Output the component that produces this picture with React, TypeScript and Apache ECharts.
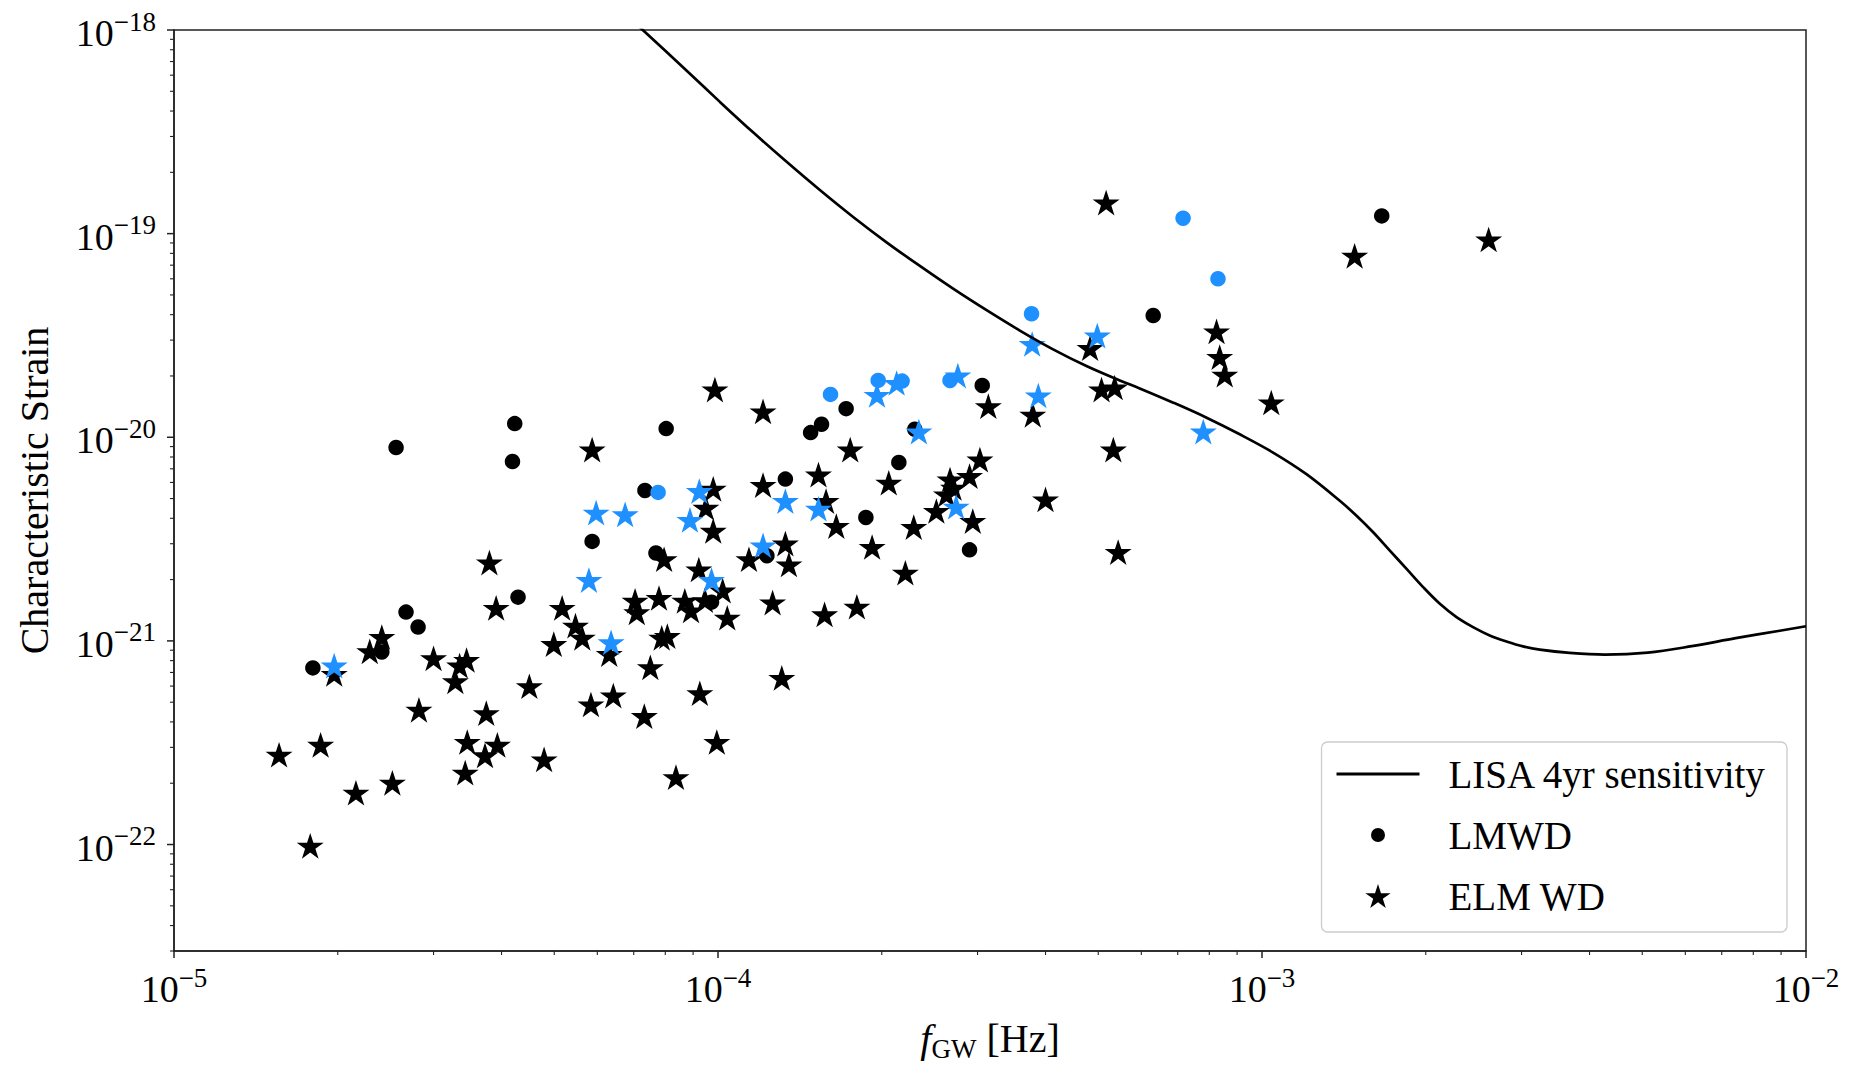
import React, { useEffect, useRef } from "react";
import * as echarts from "echarts";

const FONT = '"Liberation Serif", "Times New Roman", serif';
const BLUE = "#1E90FF";
const AXIS_COLOR = "#222222";

// ECharts rounds very small numbers to zero on log axes, so the values are
// plotted in scaled units (f / 1e-5 and h / 1e-23); labels undo the scaling.
const X_SCALE_EXP = 5;
const Y_SCALE_EXP = 23;
const X_SCALE = 1e5;
const Y_SCALE = 1e23;

const X_MIN = 1e-5;
const X_MAX = 1e-2;
const Y_MIN = 3e-23;
const Y_MAX = 1e-18;

// LISA 4yr sensitivity curve
const lisaFreq = [
  6.6e-5, 7.29e-5, 8.76e-5, 1.008e-4, 1.16e-4, 1.337e-4, 1.539e-4, 1.772e-4, 2.041e-4, 2.35e-4,
  2.705e-4, 3.117e-4, 3.588e-4, 4.13e-4, 4.756e-4, 5.477e-4, 5.96e-4, 6.87e-4, 7.91e-4, 9.1e-4,
  1.048e-3, 1.207e-3, 1.39e-3, 1.492e-3, 1.601e-3, 1.718e-3, 1.844e-3, 1.978e-3, 2.123e-3, 2.278e-3,
  2.443e-3, 2.622e-3, 2.814e-3, 3.019e-3, 3.24e-3, 3.679e-3, 4.266e-3, 5.118e-3, 6.166e-3, 7.427e-3,
  8.948e-3, 1.0e-2,
];
const lisaStrain = [
  1.276e-18, 9.95e-19, 6.306e-19, 4.436e-19, 3.144e-19, 2.252e-19, 1.637e-19, 1.207e-19, 9.066e-20, 6.937e-20,
  5.366e-20, 4.206e-20, 3.342e-20, 2.703e-20, 2.239e-20, 1.902e-20, 1.738e-20, 1.479e-20, 1.248e-20, 1.034e-20,
  8.414e-21, 6.588e-21, 4.875e-21, 4.117e-21, 3.415e-21, 2.775e-21, 2.257e-21, 1.836e-21, 1.521e-21, 1.309e-21,
  1.169e-21, 1.064e-21, 9.94e-22, 9.397e-22, 9.053e-22, 8.725e-22, 8.559e-22, 8.755e-22, 9.419e-22, 1.031e-21,
  1.122e-21, 1.18e-21,
];

// LMWD (black)
const lmwdFreq = [
  4.23e-5, 2.56e-5, 4.19e-5, 8.03e-5, 7.34e-5, 5.87e-5, 7.69e-5, 4.29e-5, 2.67e-5, 2.81e-5,
  2.41e-5, 1.8e-5, 1.72e-4, 1.55e-4, 1.48e-4, 2.15e-4, 1.33e-4, 1.87e-4, 2.9e-4, 1.23e-4,
  9.73e-5, 3.06e-4, 1.66e-3, 6.31e-4, 2.3e-4,
];
const lmwdStrain = [
  1.167e-20, 8.9e-21, 7.6e-21, 1.103e-20, 5.48e-21, 3.08e-21, 2.7e-21, 1.64e-21, 1.385e-21, 1.169e-21,
  8.82e-22, 7.37e-22, 1.382e-20, 1.158e-20, 1.054e-20, 7.52e-21, 6.23e-21, 4.04e-21, 2.8e-21, 2.62e-21,
  1.55e-21, 1.797e-20, 1.222e-19, 3.96e-20, 1.094e-20,
];

// LMWD (blue)
const lmwdBlueFreq = [7.76e-5, 1.61e-4, 1.97e-4, 2.18e-4, 2.67e-4, 7.16e-4, 8.3e-4, 3.77e-4];
const lmwdBlueStrain = [5.36e-21, 1.624e-20, 1.902e-20, 1.887e-20, 1.9e-20, 1.191e-19, 6.0e-20, 4.04e-20];

// ELM WD (black)
const elmFreq = [
  5.87e-5, 3.8e-5, 7.96e-5, 9.22e-5, 3.91e-5, 5.17e-5, 7.04e-5, 7.09e-5, 7.79e-5, 8.69e-5,
  8.92e-5, 9.46e-5, 5.47e-5, 5.63e-5, 4.99e-5, 6.31e-5, 7.88e-5, 8.07e-5, 2.41e-5, 2.29e-5,
  1.97e-5, 3.0e-5, 3.45e-5, 3.35e-5, 3.29e-5, 4.5e-5, 7.51e-5, 6.42e-5, 5.84e-5, 7.32e-5,
  9.26e-5, 2.82e-5, 3.75e-5, 1.86e-5, 1.56e-5, 3.46e-5, 3.93e-5, 3.73e-5, 4.79e-5, 3.43e-5,
  2.52e-5, 2.16e-5, 8.37e-5, 1.78e-5, 9.95e-5, 9.87e-5, 1.21e-4, 1.75e-4, 1.53e-4, 1.21e-4,
  2.06e-4, 9.8e-5, 9.5e-5, 1.58e-4, 1.65e-4, 9.8e-5, 2.29e-4, 1.92e-4, 1.33e-4, 1.35e-4,
  1.14e-4, 2.21e-4, 1.02e-4, 1.04e-4, 1.26e-4, 1.57e-4, 1.8e-4, 1.31e-4, 3.03e-4, 2.9e-4,
  2.67e-4, 2.71e-4, 2.63e-4, 2.52e-4, 2.94e-4, 3.14e-4, 3.79e-4, 5.33e-4, 4.0e-4, 5.44e-4,
  5.07e-4, 5.36e-4, 5.17e-4, 1.48e-3, 2.61e-3, 4.83e-4, 8.25e-4, 8.36e-4, 8.54e-4, 1.04e-3,
];
const elmStrain = [
  8.57e-21, 2.39e-21, 2.48e-21, 2.21e-21, 1.43e-21, 1.43e-21, 1.55e-21, 1.36e-21, 1.6e-21, 1.55e-21,
  1.39e-21, 1.56e-21, 1.17e-21, 1.02e-21, 9.5e-22, 8.49e-22, 1.02e-21, 1.04e-21, 1.03e-21, 8.76e-22,
  6.78e-22, 8.09e-22, 7.94e-22, 7.45e-22, 6.24e-22, 5.9e-22, 7.31e-22, 5.31e-22, 4.8e-22, 4.21e-22,
  5.45e-22, 4.52e-22, 4.35e-22, 3.04e-22, 2.72e-22, 3.14e-22, 3.04e-22, 2.7e-22, 2.58e-22, 2.22e-22,
  1.98e-22, 1.77e-22, 2.11e-22, 9.71e-23, 3.14e-22, 1.69e-20, 1.32e-20, 8.57e-21, 6.46e-21, 5.74e-21,
  5.89e-21, 5.5e-21, 4.44e-21, 4.79e-21, 3.61e-21, 3.42e-21, 3.57e-21, 2.85e-21, 2.96e-21, 2.34e-21,
  2.48e-21, 2.13e-21, 1.74e-21, 1.28e-21, 1.52e-21, 1.33e-21, 1.45e-21, 6.48e-22, 7.65e-21, 6.35e-21,
  6.11e-21, 5.56e-21, 5.16e-21, 4.28e-21, 3.82e-21, 1.4e-20, 1.27e-20, 8.57e-21, 4.88e-21, 2.69e-21,
  1.69e-20, 1.73e-20, 1.4e-19, 7.67e-20, 9.22e-20, 2.7e-20, 3.26e-20, 2.44e-20, 2.0e-20, 1.46e-20,
];

// ELM WD (blue)
const elmBlueFreq = [
  1.97e-5, 5.97e-5, 6.75e-5, 9.24e-5, 8.88e-5, 5.79e-5, 6.36e-5, 1.96e-4, 2.13e-4, 2.76e-4,
  3.88e-4, 2.34e-4, 1.33e-4, 1.53e-4, 2.74e-4, 1.21e-4, 9.73e-5, 3.78e-4, 4.98e-4, 7.8e-4,
];
const elmBlueStrain = [
  7.45e-22, 4.2e-21, 4.12e-21, 5.36e-21, 3.87e-21, 1.96e-21, 9.69e-22, 1.59e-20, 1.82e-20, 1.98e-20,
  1.58e-20, 1.05e-20, 4.79e-21, 4.39e-21, 4.49e-21, 2.9e-21, 1.96e-21, 2.83e-20, 3.11e-20, 1.05e-20,
];

// Axis ticks
const xMajorTicks = [1e-5, 1e-4, 1e-3, 1e-2];
const yMajorTicks = [1e-22, 1e-21, 1e-20, 1e-19, 1e-18];
const minorMultipliers = [2, 3, 4, 5, 6, 7, 8, 9];
const xMinorDecades = [1e-5, 1e-4, 1e-3];
const yMinorDecades = [1e-23, 1e-22, 1e-21, 1e-20, 1e-19];

const STAR_PATH =
  "path://M0,-100 L22.45,-30.9 L95.11,-30.9 L36.33,11.8 L58.78,80.9 L0,38.2 L-58.78,80.9 L-36.33,11.8 L-95.11,-30.9 L-22.45,-30.9 Z";
const DOT_LEGEND_PATH = "path://M0,0 M24,24 M5,12 A7,7 0 1,0 19,12 A7,7 0 1,0 5,12 Z";
const LINE_LEGEND_PATH = "path://M0,0 M0,10.6 L83,10.6 L83,13.4 L0,13.4 Z M83,24";

const sx = (v: number) => v * X_SCALE;
const sy = (v: number) => v * Y_SCALE;
const pairs = (xs: number[], ys: number[]) => xs.map((x, i) => [sx(x), sy(ys[i])]);

function buildMinor(decades: number[], lo: number, hi: number) {
  const out: number[] = [];
  decades.forEach((d) => minorMultipliers.forEach((m) => {
    const v = m * d;
    if (v >= lo * 0.999 && v <= hi * 1.001) out.push(v);
  }));
  return out;
}

function tickSeries(name: string, values: number[], axis: "x" | "y", len: number, width: number) {
  return {
    type: "custom",
    name,
    silent: true,
    z: 10,
    clip: false,
    data: values.map((v) => (axis === "x" ? [sx(v), sy(Y_MIN)] : [sx(X_MIN), sy(v)])),
    renderItem: (_params: any, api: any) => {
      const p = api.coord([api.value(0), api.value(1)]);
      const shape =
        axis === "x"
          ? { x1: p[0], y1: p[1], x2: p[0], y2: p[1] + len }
          : { x1: p[0] - len, y1: p[1], x2: p[0], y2: p[1] };
      return { type: "line", shape, style: { stroke: AXIS_COLOR, lineWidth: width } };
    },
  };
}

const powLabel = (shiftExp: number) => (v: number) => {
  const e = Math.log10(v);
  const r = Math.round(e);
  if (Math.abs(e - r) > 1e-6) return "";
  const exp = r - shiftExp;
  return `{b|10}{s|${exp < 0 ? "\u2212" : ""}${Math.abs(exp)}}`;
};

const labelRich = {
  b: { fontFamily: FONT, fontSize: 38, lineHeight: 44, verticalAlign: "bottom", color: "#000" },
  s: { fontFamily: FONT, fontSize: 27, lineHeight: 22, verticalAlign: "top", color: "#000" },
};

export default function App() {
  const ref = useRef<HTMLDivElement>(null);

  useEffect(() => {
    if (!ref.current) return;
    const chart = echarts.init(ref.current, undefined, { renderer: "svg" });

    const option: any = {
      animation: false,
      backgroundColor: "#ffffff",
      textStyle: { fontFamily: FONT },
      grid: {
        left: 174,
        right: 50,
        top: 30,
        bottom: 130,
        show: true,
        borderColor: AXIS_COLOR,
        borderWidth: 1.5,
        backgroundColor: "transparent",
      },
      legend: {
        data: [
          { name: "LISA 4yr sensitivity", icon: LINE_LEGEND_PATH },
          { name: "LMWD", icon: DOT_LEGEND_PATH },
          { name: "ELM WD", icon: STAR_PATH },
        ],
        orient: "vertical",
        right: 69,
        bottom: 149,
        itemWidth: 83,
        itemHeight: 24,
        itemGap: 21,
        padding: [12, 20, 16, 15],
        backgroundColor: "rgba(255,255,255,0.85)",
        borderColor: "#cccccc",
        borderWidth: 1.3,
        borderRadius: 6,
        selectedMode: false,
        textStyle: {
          fontFamily: FONT,
          fontSize: 39,
          color: "#000",
          lineHeight: 40,
          padding: [0, 0, 0, 24],
        },
      },
      xAxis: {
        type: "log",
        logBase: 10,
        min: sx(X_MIN),
        max: sx(X_MAX),
        name: "{it|f}{sub|GW}{n| [Hz]}",
        nameLocation: "middle",
        nameGap: 67,
        nameTextStyle: {
          rich: {
            it: { fontFamily: FONT, fontStyle: "italic", fontSize: 40, lineHeight: 44, verticalAlign: "top", color: "#000" },
            sub: { fontFamily: FONT, fontSize: 27, lineHeight: 28, verticalAlign: "bottom", color: "#000" },
            n: { fontFamily: FONT, fontSize: 40, lineHeight: 44, verticalAlign: "top", color: "#000" },
          },
        },
        axisLine: { show: true, lineStyle: { color: AXIS_COLOR, width: 1.5 } },
        axisTick: { show: false },
        splitLine: { show: false },
        minorTick: { show: false },
        axisLabel: { margin: 13, formatter: powLabel(X_SCALE_EXP), rich: labelRich },
      },
      yAxis: {
        type: "log",
        logBase: 10,
        min: sy(Y_MIN),
        max: sy(Y_MAX),
        name: "Characteristic Strain",
        nameLocation: "middle",
        nameGap: 120,
        nameTextStyle: { fontFamily: FONT, fontSize: 40, lineHeight: 40, color: "#000" },
        axisLine: { show: true, lineStyle: { color: AXIS_COLOR, width: 1.5 } },
        axisTick: { show: false },
        splitLine: { show: false },
        minorTick: { show: false },
        axisLabel: { margin: 18, formatter: powLabel(Y_SCALE_EXP), rich: labelRich },
      },
      series: [
        {
          type: "line",
          name: "LISA 4yr sensitivity",
          data: pairs(lisaFreq, lisaStrain),
          symbol: "none",
          smooth: 0.35,
          silent: true,
          lineStyle: { color: "#000", width: 2.7 },
          itemStyle: { color: "#000" },
        },
        {
          type: "scatter",
          name: "LMWD",
          data: pairs(lmwdFreq, lmwdStrain),
          symbol: "circle",
          symbolSize: 15.5,
          silent: true,
          itemStyle: { color: "#000", opacity: 1 },
        },
        {
          type: "scatter",
          name: "LMWD (blue)",
          data: pairs(lmwdBlueFreq, lmwdBlueStrain),
          symbol: "circle",
          symbolSize: 15.5,
          silent: true,
          itemStyle: { color: BLUE, opacity: 1 },
        },
        {
          type: "scatter",
          name: "ELM WD",
          data: pairs(elmFreq, elmStrain),
          symbol: STAR_PATH,
          symbolSize: 27,
          symbolKeepAspect: true,
          symbolOffset: [0, -1.3],
          silent: true,
          itemStyle: { color: "#000", opacity: 1 },
        },
        {
          type: "scatter",
          name: "ELM WD (blue)",
          data: pairs(elmBlueFreq, elmBlueStrain),
          symbol: STAR_PATH,
          symbolSize: 27,
          symbolKeepAspect: true,
          symbolOffset: [0, -1.3],
          silent: true,
          itemStyle: { color: BLUE, opacity: 1 },
        },
        tickSeries("xMajor", xMajorTicks, "x", 7, 1.5),
        tickSeries("yMajor", yMajorTicks, "y", 7, 1.5),
        tickSeries("xMinor", buildMinor(xMinorDecades, X_MIN, X_MAX), "x", 4, 1.1),
        tickSeries("yMinor", buildMinor(yMinorDecades, Y_MIN, Y_MAX), "y", 4, 1.1),
      ],
    };

    chart.setOption(option);
    return () => chart.dispose();
  }, []);

  return (
    <div
      ref={ref}
      style={{ position: "fixed", left: 0, top: 0, width: 1856, height: 1081, background: "#fff" }}
    />
  );
}
